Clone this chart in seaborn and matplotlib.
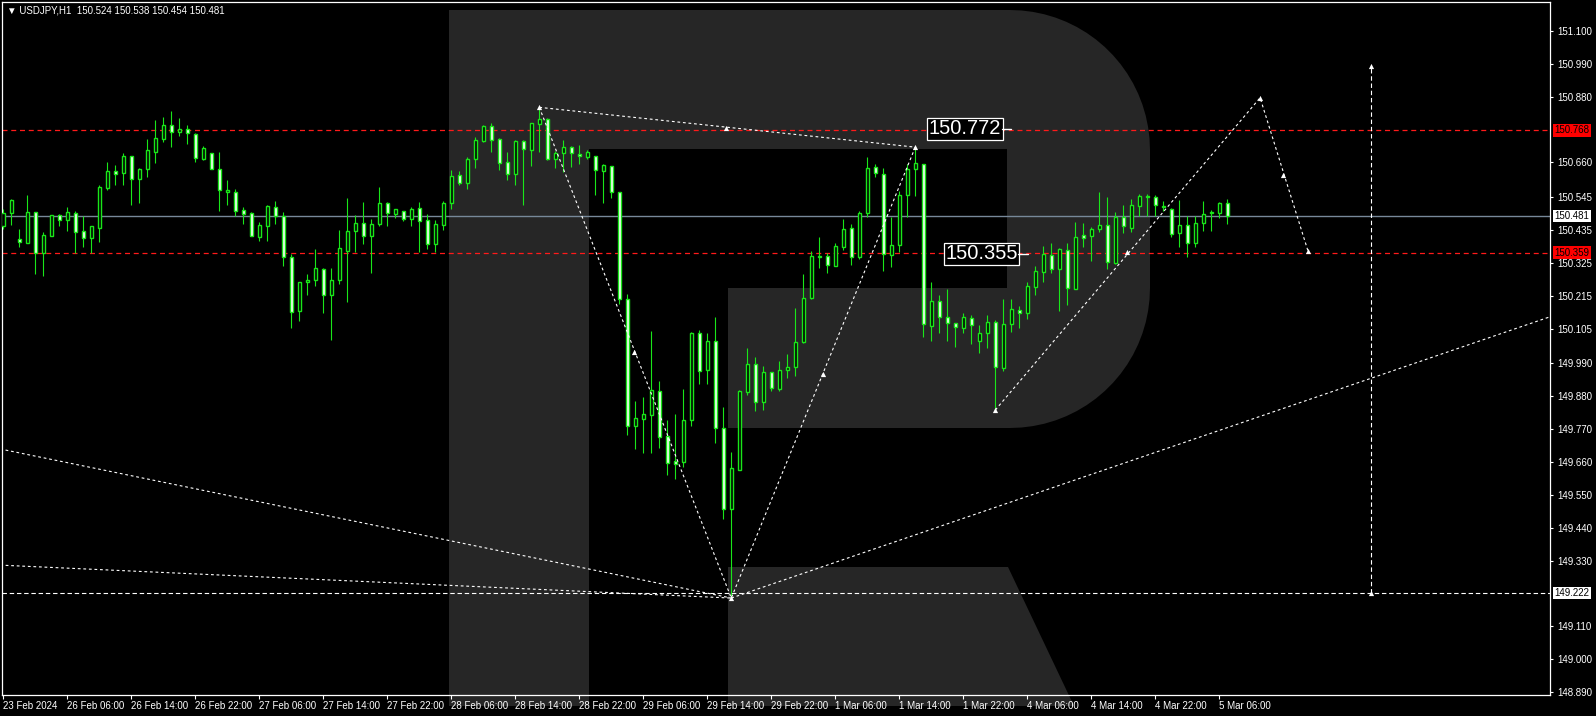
import numpy as np
import pandas as pd
import matplotlib
matplotlib.use('Agg')
import matplotlib.pyplot as plt
from matplotlib.patches import Polygon
import seaborn as sns

# hourly bars, USDJPY H1 (open, high, low, close)
opens = [150.448, 150.490, 150.403, 150.392, 150.493, 150.359, 150.415, 150.483, 150.468, 150.490,
         150.430, 150.409, 150.442, 150.576, 150.630, 150.625, 150.680, 150.603, 150.637, 150.696,
         150.739, 150.784, 150.761, 150.771, 150.754, 150.672, 150.690, 150.637, 150.562, 150.560,
         150.500, 150.490, 150.412, 150.449, 150.510, 150.480, 150.343, 150.165, 150.260, 150.266,
         150.303, 150.216, 150.266, 150.363, 150.430, 150.457, 150.413, 150.453, 150.523, 150.487,
         150.499, 150.470, 150.507, 150.467, 150.389, 150.452, 150.523, 150.617, 150.590, 150.672,
         150.733, 150.781, 150.737, 150.660, 150.622, 150.731, 150.702, 150.789, 150.804, 150.670,
         150.690, 150.710, 150.687, 150.679, 150.680, 150.632, 150.647, 150.560, 150.205, 149.781,
         149.804, 149.817, 149.897, 149.745, 149.662, 149.661, 149.799, 150.090, 149.966, 150.064,
         149.772, 149.504, 149.633, 149.894, 149.987, 149.861, 149.960, 149.904, 149.966, 149.976,
         150.059, 150.208, 150.347, 150.346, 150.315, 150.378, 150.440, 150.343, 150.490, 150.644,
         150.620, 150.350, 150.383, 150.552, 150.637, 150.654, 150.113, 150.196, 150.143, 150.123,
         150.106, 150.139, 150.063, 150.089, 150.126, 149.972, 150.119, 150.166, 150.156, 150.243,
         150.293, 150.350, 150.303, 150.366, 150.237, 150.417, 150.413, 150.437, 150.450, 150.323,
         150.477, 150.440, 150.513, 150.547, 150.543, 150.513, 150.503, 150.423, 150.450, 150.390,
         150.457, 150.490, 150.490, 150.524]
highs = [150.503, 150.537, 150.438, 150.551, 150.493, 150.426, 150.486, 150.488, 150.511, 150.497,
         150.480, 150.447, 150.585, 150.660, 150.651, 150.690, 150.680, 150.643, 150.738, 150.802,
         150.812, 150.832, 150.808, 150.785, 150.757, 150.715, 150.690, 150.695, 150.601, 150.571,
         150.511, 150.493, 150.461, 150.518, 150.531, 150.494, 150.354, 150.260, 150.286, 150.371,
         150.306, 150.307, 150.434, 150.540, 150.483, 150.528, 150.470, 150.578, 150.528, 150.503,
         150.499, 150.511, 150.528, 150.487, 150.467, 150.531, 150.635, 150.631, 150.679, 150.745,
         150.786, 150.791, 150.741, 150.695, 150.735, 150.734, 150.791, 150.844, 150.807, 150.698,
         150.734, 150.715, 150.717, 150.701, 150.680, 150.655, 150.647, 150.560, 150.220, 149.862,
         149.877, 150.097, 149.930, 149.800, 149.819, 149.903, 150.095, 150.100, 150.091, 150.144,
         149.843, 149.693, 149.900, 150.040, 150.010, 149.980, 149.960, 149.997, 150.020, 150.174,
         150.287, 150.364, 150.411, 150.356, 150.390, 150.471, 150.453, 150.497, 150.677, 150.654,
         150.640, 150.477, 150.564, 150.654, 150.711, 150.654, 150.261, 150.217, 150.237, 150.123,
         150.156, 150.149, 150.116, 150.149, 150.134, 150.203, 150.203, 150.180, 150.261, 150.313,
         150.381, 150.390, 150.373, 150.390, 150.460, 150.457, 150.443, 150.561, 150.543, 150.493,
         150.517, 150.537, 150.553, 150.553, 150.550, 150.530, 150.507, 150.535, 150.480, 150.480,
         150.530, 150.501, 150.527, 150.538]
lows = [150.437, 150.451, 150.378, 150.392, 150.287, 150.282, 150.415, 150.448, 150.431, 150.356,
        150.378, 150.356, 150.395, 150.569, 150.585, 150.586, 150.517, 150.523, 150.612, 150.659,
        150.729, 150.713, 150.749, 150.723, 150.663, 150.669, 150.637, 150.499, 150.518, 150.482,
        150.455, 150.415, 150.398, 150.399, 150.454, 150.314, 150.108, 150.131, 150.218, 150.248,
        150.158, 150.068, 150.255, 150.195, 150.362, 150.389, 150.292, 150.449, 150.448, 150.473,
        150.465, 150.449, 150.360, 150.371, 150.360, 150.434, 150.504, 150.585, 150.571, 150.641,
        150.727, 150.695, 150.635, 150.601, 150.585, 150.518, 150.648, 150.695, 150.668, 150.641,
        150.629, 150.646, 150.655, 150.671, 150.551, 150.525, 150.542, 150.186, 149.750, 149.704,
        149.688, 149.691, 149.707, 149.617, 149.604, 149.644, 149.781, 149.919, 149.919, 149.724,
        149.470, 149.205, 149.633, 149.884, 149.831, 149.834, 149.898, 149.898, 149.940, 149.947,
        150.057, 150.205, 150.308, 150.292, 150.315, 150.368, 150.318, 150.337, 150.479, 150.610,
        150.298, 150.312, 150.360, 150.479, 150.549, 150.078, 150.065, 150.091, 150.065, 150.045,
        150.091, 150.055, 150.022, 150.041, 149.833, 149.964, 150.093, 150.108, 150.137, 150.218,
        150.262, 150.290, 150.165, 150.183, 150.236, 150.378, 150.332, 150.427, 150.303, 150.320,
        150.425, 150.427, 150.480, 150.480, 150.480, 150.497, 150.410, 150.378, 150.345, 150.378,
        150.432, 150.432, 150.473, 150.454]
closes = [150.490, 150.535, 150.393, 150.494, 150.357, 150.417, 150.486, 150.468, 150.493, 150.427,
          150.409, 150.447, 150.577, 150.630, 150.622, 150.680, 150.603, 150.637, 150.700, 150.742,
          150.784, 150.761, 150.771, 150.757, 150.674, 150.707, 150.637, 150.567, 150.568, 150.499,
          150.489, 150.415, 150.450, 150.515, 150.480, 150.345, 150.161, 150.260, 150.266, 150.306,
          150.216, 150.266, 150.373, 150.430, 150.457, 150.413, 150.453, 150.523, 150.490, 150.503,
          150.470, 150.503, 150.463, 150.389, 150.453, 150.523, 150.614, 150.590, 150.670, 150.734,
          150.781, 150.736, 150.659, 150.622, 150.731, 150.706, 150.791, 150.804, 150.672, 150.690,
          150.710, 150.690, 150.681, 150.694, 150.634, 150.650, 150.560, 150.205, 149.781, 149.806,
          149.819, 149.900, 149.744, 149.655, 149.654, 149.799, 150.090, 149.962, 150.064, 149.772,
          149.504, 149.638, 149.897, 149.987, 149.861, 149.960, 149.908, 149.967, 149.977, 150.059,
          150.206, 150.347, 150.345, 150.316, 150.381, 150.437, 150.343, 150.490, 150.640, 150.624,
          150.353, 150.383, 150.552, 150.637, 150.657, 150.119, 150.196, 150.143, 150.123, 150.109,
          150.143, 150.116, 150.089, 150.126, 149.976, 150.119, 150.169, 150.156, 150.246, 150.296,
          150.353, 150.303, 150.370, 150.240, 150.410, 150.407, 150.437, 150.450, 150.326, 150.477,
          150.447, 150.517, 150.547, 150.543, 150.517, 150.511, 150.420, 150.450, 150.390, 150.457,
          150.487, 150.493, 150.523, 150.481]

time_labels = ['23 Feb 2024', '26 Feb 06:00', '26 Feb 14:00', '26 Feb 22:00', '27 Feb 06:00',
               '27 Feb 14:00', '27 Feb 22:00', '28 Feb 06:00', '28 Feb 14:00', '28 Feb 22:00',
               '29 Feb 06:00', '29 Feb 14:00', '29 Feb 22:00', '1 Mar 06:00', '1 Mar 14:00',
               '1 Mar 22:00', '4 Mar 06:00', '4 Mar 14:00', '4 Mar 22:00', '5 Mar 06:00']
price_ticks = [151.100, 150.990, 150.880, 150.660, 150.545, 150.435, 150.325, 150.215, 150.105,
               149.990, 149.880, 149.770, 149.660, 149.550, 149.440, 149.330, 149.110, 149.000, 148.890]

resistance = 150.768
support = 150.359
last_price = 150.481
low_level = 149.222

# forecast zigzag (bar index, price)
wave_x = [67, 91, 114]
wave_y = [150.844, 149.205, 150.711]
top_line_x = [67, 114]
top_line_y = [150.844, 150.711]
forecast_x = [124, 157.1, 163.1]
forecast_y = [149.833, 150.876, 150.363]
fan_x = [[-0.4, 91], [-0.4, 91], [91, 193.4]]
fan_y = [[149.703, 149.205], [149.315, 149.205], [149.205, 150.145]]
target_x = 171
target_y = [149.222, 150.982]
arrow_x = [67, 78.8, 90.3, 91, 102.4, 114, 124, 140.4, 157.1, 160, 163.1, 171, 171]
arrow_y = [150.844, 150.027, 150.774, 149.205, 149.955, 150.711, 149.833, 150.36, 150.876,
           150.618, 150.363, 150.982, 149.222]

GREEN = '#19e619'

sns.set_theme(style='dark', rc={'figure.facecolor': 'black', 'axes.facecolor': 'none',
                                'axes.edgecolor': 'white', 'text.color': 'white',
                                'xtick.color': 'white', 'ytick.color': 'white'})
plt.rcParams['font.family'] = ['Liberation Sans', 'DejaVu Sans']

fig = plt.figure(figsize=(15.96, 7.16), dpi=100)

# watermark logo in the background (pixel coordinates)
bg = fig.add_axes([0, 0, 1, 1], zorder=0)
bg.set_xlim(0, 1596)
bg.set_ylim(716, 0)
bg.axis('off')
r = 140
t1 = np.linspace(-np.pi / 2, 0, 20)
t2 = np.linspace(0, np.pi / 2, 20)
bowl = [(449, 10), (1150 - r, 10)]
bowl += [(1150 - r + r * np.cos(t), 10 + r + r * np.sin(t)) for t in t1]
bowl += [(1150 - r + r * np.cos(t), 428 - r + r * np.sin(t)) for t in t2]
bowl += [(728, 428), (728, 288), (1007, 288), (1007, 149), (589, 149), (589, 706), (449, 706)]
bg.add_patch(Polygon(bowl, closed=True, fc='#262626', ec='none'))
bg.add_patch(Polygon([(728, 567), (1008, 567), (1074, 706), (728, 706)], closed=True,
                     fc='#262626', ec='none'))

ax = fig.add_axes([2.3 / 1596, 1 - 695 / 716, 1548 / 1596, 692.7 / 716], zorder=1)
ax.set_facecolor('none')

df = pd.DataFrame({'open': opens, 'high': highs, 'low': lows, 'close': closes})
df['bar'] = np.arange(len(df))
up = df['close'] >= df['open']

ax.vlines(df['bar'], df['low'], df['high'], color=GREEN, lw=0.8, zorder=3)
ax.bar(df['bar'], (df['close'] - df['open']).abs(), bottom=df[['open', 'close']].min(axis=1),
       width=0.45, color=np.where(up, 'black', 'white'), edgecolor=GREEN, linewidth=1.0, zorder=4)

# levels
ax.axhline(resistance, color='#ff1a1a', lw=0.9, dashes=(4, 3), zorder=2)
ax.axhline(support, color='#ff1a1a', lw=0.9, dashes=(4, 3), zorder=2)
ax.axhline(last_price, color='#778899', lw=1.0, zorder=2)
ax.axhline(low_level, color='white', lw=0.8, dashes=(4, 2.5), zorder=2)
ax.plot([target_x, target_x], target_y, color='white', lw=0.8, dashes=(4, 2.5), zorder=2)

# zigzag / forecast lines
dots = dict(color='white', lw=0.8, dashes=(2.5, 2.5), zorder=5)
sns.lineplot(x=wave_x, y=wave_y, sort=False, ax=ax, estimator=None, **dots)
sns.lineplot(x=top_line_x, y=top_line_y, sort=False, ax=ax, estimator=None, **dots)
sns.lineplot(x=forecast_x, y=forecast_y, sort=False, ax=ax, estimator=None, **dots)
for fx, fy in zip(fan_x, fan_y):
    ax.plot(fx, fy, **dots)
sns.scatterplot(x=arrow_x, y=arrow_y, ax=ax, color='white', marker='^', s=14, linewidth=0, zorder=6)

# text labels on the chart
for val, xi in [(150.772, 126.0), (150.355, 128.1)]:
    ax.text(xi - 1.3, val, f'{val:.3f}', ha='right', va='center', fontsize=14.5, color='white',
            zorder=7, bbox=dict(boxstyle='square,pad=0.08', fc='black', ec='white', lw=0.9))
    ax.plot([xi - 1.2, xi], [val, val], color='white', lw=1.0, zorder=7)

ax.set_xlim(-0.125, 193.375)
ax.set_ylim(148.8812, 151.1948)

ax.yaxis.tick_right()
ax.set_yticks(price_ticks)
ax.set_yticklabels([f'{v:.3f}' for v in price_ticks])
ax.set_xticks(np.arange(0, len(time_labels) * 8, 8))
ax.set_xticklabels(time_labels, ha='left')
ax.tick_params(axis='y', right=True, left=False, length=2.2, width=0.8, pad=2.5, labelsize=7,
               colors='white')
ax.tick_params(axis='x', bottom=True, length=2.9, width=0.8, pad=1.5, labelsize=7, colors='white')
for lab in ax.get_xticklabels():
    lab.set_x(lab.get_position()[0])
for sp in ax.spines.values():
    sp.set_color('white')
    sp.set_linewidth(0.9)
ax.set_xlabel('')
ax.set_ylabel('')

# price tags on the right scale
for val, fc in [(resistance, '#ff0000'), (support, '#ff0000'), (last_price, 'white'),
                (low_level, 'white')]:
    ax.annotate(f'{val:.3f}', xy=(1, val), xycoords=('axes fraction', 'data'), xytext=(4, 0),
                textcoords='offset pixels', ha='left', va='center', fontsize=7, color='black',
                bbox=dict(boxstyle='square,pad=0.15', fc=fc, ec='none'), annotation_clip=False,
                zorder=8)

fig.text(7 / 1596, 1 - 10.7 / 716, '\u25bc USDJPY,H1  150.524 150.538 150.454 150.481',
         fontsize=7, color='white', ha='left', va='center')

fig.savefig('out.png', dpi=100, facecolor='black')
